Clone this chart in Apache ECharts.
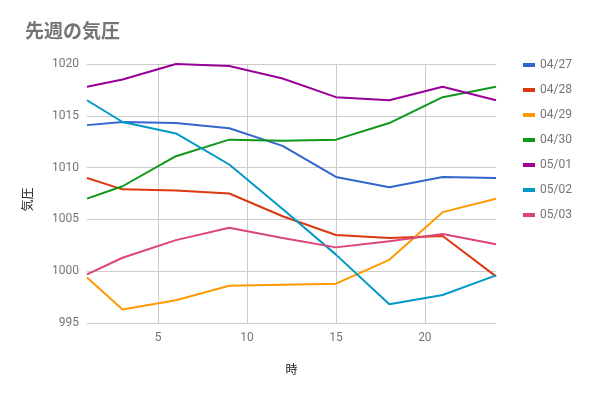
<!DOCTYPE html>
<html>
<head>
<meta charset="utf-8">
<script src="https://cdn.jsdelivr.net/npm/echarts@6/dist/echarts.min.js"></script>
<style>
  html, body { margin: 0; padding: 0; background: #fff; }
  #main { width: 591px; height: 397px; }
</style>
</head>
<body>
<div id="main"></div>
<script>
// 時刻 (x軸)
var hours = [1, 3, 6, 9, 12, 15, 18, 21, 24];
var xTicks = [5, 10, 15, 20];
var days = ["04/27", "04/28", "04/29", "04/30", "05/01", "05/02", "05/03"];
var colors = ["#3366cc", "#dc3912", "#ff9900", "#109618", "#990099", "#0099c6", "#dd4477"];

// 気圧 (hPa)
var p0427 = [1014.1, 1014.4, 1014.3, 1013.8, 1012.1, 1009.1, 1008.1, 1009.1, 1009.0];
var p0428 = [1009.0, 1007.9, 1007.8, 1007.5, 1005.3, 1003.5, 1003.2, 1003.4, 999.5];
var p0429 = [999.4, 996.3, 997.2, 998.6, 998.7, 998.8, 1001.1, 1005.7, 1007.0];
var p0430 = [1007.0, 1008.2, 1011.1, 1012.7, 1012.6, 1012.7, 1014.3, 1016.8, 1017.8];
var p0501 = [1017.8, 1018.5, 1020.0, 1019.8, 1018.6, 1016.8, 1016.5, 1017.8, 1016.5];
var p0502 = [1016.5, 1014.4, 1013.3, 1010.3, 1006.0, 1001.6, 996.8, 997.7, 999.6];
var p0503 = [999.7, 1001.3, 1003.0, 1004.2, 1003.2, 1002.3, 1002.9, 1003.6, 1002.6];

var allData = [p0427, p0428, p0429, p0430, p0501, p0502, p0503];
var fontFam = "Roboto, 'Noto Sans CJK JP', sans-serif";

var series = [];
for (var i = 0; i < days.length; i++) {
  var pts = [];
  for (var j = 0; j < hours.length; j++) {
    pts.push([hours[j], allData[i][j]]);
  }
  series.push({
    name: days[i],
    type: "line",
    data: pts,
    showSymbol: false,
    symbol: "none",
    lineStyle: { width: 2, color: colors[i] },
    itemStyle: { color: colors[i] }
  });
}

var myChart = echarts.init(document.getElementById("main"));
var option = {
  animation: false,
  color: colors,
  textStyle: { fontFamily: fontFam },
  title: {
    text: "先週の気圧",
    left: 20,
    top: 19,
    textStyle: { fontSize: 19, fontWeight: "bold", color: "#757575", fontFamily: fontFam }
  },
  legend: {
    orient: "vertical",
    left: 518,
    top: 54,
    itemGap: 13,
    itemWidth: 12,
    itemHeight: 4,
    icon: "rect",
    data: days,
    textStyle: { color: "#757575", fontSize: 12, fontFamily: fontFam }
  },
  grid: { left: 87, right: 95, top: 64, bottom: 74 },
  xAxis: {
    type: "value",
    min: 1,
    max: 24,
    name: "時",
    nameLocation: "middle",
    nameGap: 42,
    nameTextStyle: { color: "#222", fontSize: 12 },
    axisLine: { show: false },
    axisTick: { show: false, customValues: xTicks },
    axisLabel: { color: "#757575", fontSize: 12, margin: 9, customValues: xTicks },
    splitLine: { show: true, lineStyle: { color: "#cccccc", width: 1 } }
  },
  yAxis: {
    type: "value",
    min: 995,
    max: 1020,
    interval: 5,
    name: "気圧",
    nameLocation: "middle",
    nameGap: 52,
    nameTextStyle: { color: "#222", fontSize: 12, padding: [0, 0, 0, -12] },
    axisLine: { show: false },
    axisTick: { show: false },
    axisLabel: {
      color: "#757575",
      fontSize: 12,
      margin: 8,
      formatter: function(v) { return String(v); }
    },
    splitLine: { lineStyle: { color: "#cccccc", width: 1 } }
  },
  series: series
};
myChart.setOption(option);
</script>
</body>
</html>
